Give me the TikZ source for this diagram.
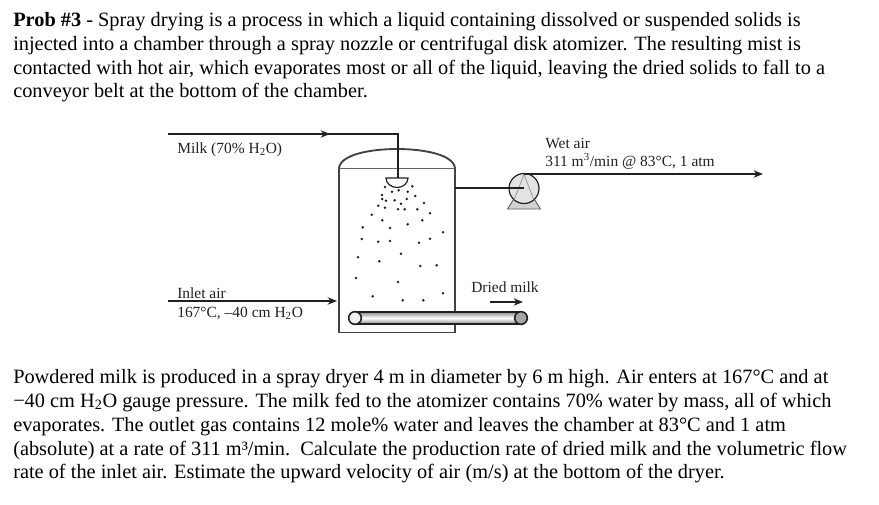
\documentclass[tikz,border=0pt]{standalone}
\usepackage{fontspec}
\setmainfont{Liberation Serif}
\usetikzlibrary{arrows.meta, positioning}
\definecolor{linedark}{gray}{0.13}
\definecolor{pumpgray}{gray}{0.82}
\tikzset{
bodytext/.style={anchor=base west,inner sep=0pt,font=\fontsize{15.25pt}{18pt}\selectfont},
labeltext/.style={anchor=base west,inner sep=0pt,text=linedark,font=\fontsize{11.6pt}{13pt}\selectfont},
pipe/.style={draw=linedark,line width=1.5pt},
wall/.style={draw=linedark!85,line width=1.4pt},
droplet/.style={circle,fill=linedark,inner sep=0pt,minimum size=2.1pt},
}
\begin{document}
\begin{tikzpicture}[
>={Stealth[length=7pt,width=5.5pt]},
x=0.75pt,
y=-0.75pt,
]
\useasboundingbox (0,0) rectangle (879,504);

\node[bodytext] (t1) at (13,26) {\textbf{Prob \#3} - Spray drying is a process in which a liquid containing dissolved or suspended solids is};
\node[bodytext] (t2) at (13,50) {injected into a chamber through a spray nozzle or centrifugal disk atomizer. The resulting mist is};
\node[bodytext] (t3) at (13,74) {contacted with hot air, which evaporates most or all of the liquid, leaving the dried solids to fall to a};
\node[bodytext] (t4) at (13,97.5) {conveyor belt at the bottom of the chamber.};

\node[bodytext] (p1) at (13,383) {Powdered milk is produced in a spray dryer 4 m in diameter by 6 m high. Air enters at 167°C and at};
\node[bodytext] (p2) at (13,407) {−40 cm H\textsubscript{2}O gauge pressure. The milk fed to the atomizer contains 70\% water by mass, all of which};
\node[bodytext] (p3) at (13,431) {evaporates. The outlet gas contains 12 mole\% water and leaves the chamber at 83°C and 1 atm};
\node[bodytext] (p4) at (13,455) {(absolute) at a rate of 311 m³/min.\ \ Calculate the production rate of dried milk and the volumetric flow};
\node[bodytext] (p5) at (13,478.5) {rate of the inlet air. Estimate the upward velocity of air (m/s) at the bottom of the dryer.};

\draw[wall] (339,168) -- (339,332.5) -- (455,332.5) -- (455,168);
\draw[wall] (339,168) .. controls (341,154) and (372,149) .. (397,149) .. controls (422,149) and (453,154) .. (455,168);
\draw[draw=linedark!70,line width=0.6pt] (339,168) -- (455,168);

\node[droplet] (nozzle) at (398,178) {};
\draw[fill=white,draw=linedark,line width=0.9pt] (386,178) -- (408,178) arc[start angle=0,end angle=180,radius=11,y radius=9.5] -- cycle;

\foreach \dropx/\dropy in {385/187,412.3/186.3,392/191.7,398.7/190.3,407.7/191.7,415.3/196,382/195,382.3/199,386/200.7,394.7/200.3,406.7/199,401/203.7,424/203,378.3/205.7,385/207.7,398/209.3,404.7/209.3,417.3/209.3,430/213.3,371.7/214.7,382.3/220.3,422.3/220.3,407.7/224.3,362.7/227.3,390/228,443/232.3,361.7/239,378.3/241.7,390/241,419/242.7,430/238.7,401/253.7,358/257.3,379.3/261.3,420.3/266,436.7/265.3,356/278,398/282,372.7/296.3,402.7/300.3,423.3/300.3,443/293.3}
\node[droplet] at (\dropx,\dropy) {};

\coordinate (milkin) at (168,134);
\coordinate (milkmid) at (330,134);
\coordinate (milkcorner) at (398,134);
\draw[pipe] (milkin) -- (milkcorner) -- (nozzle.center);
\draw[pipe,->] (milkin) -- (milkmid);

\coordinate (airin) at (168,301);
\coordinate (airend) at (337,301);
\draw[pipe,->] (airin) -- (airend);

\node[labeltext] (milk) at (177,153) {Milk (70\% H\textsubscript{2}O)};
\node[labeltext] (inlet) at (177,298) {Inlet air};
\node[labeltext] (inletcond) at (177,317.5) {167°C, –40 cm H\textsubscript{2}O};

\coordinate (pumpbl) at (507.5,209);
\coordinate (pumpbr) at (540.5,209);
\draw[fill=pumpgray,draw=linedark!70,line width=0.7pt] (pumpbl) -- (515,197) -- (533,197) -- (pumpbr) -- cycle;
\node[circle,draw=linedark,fill=pumpgray!60,line width=0.9pt,inner sep=0pt,minimum size=22.5pt] (pump) at (524,188.5) {};
\draw[draw=linedark!50,line width=0.5pt] (514,200) -- (524,174.5) -- (534,200);

\coordinate (wallout) at (455,188);
\coordinate (pumpmid) at (524,188);
\coordinate (wetend) at (763,174);
\coordinate (pumptop) at (524,174);
\draw[pipe] (wallout) -- (pumpmid);
\draw[pipe,->] (pumptop) -- (wetend);

\node[labeltext] (wet) at (545,148) {Wet air};
\node[labeltext] (wetcond) at (545,166.5) {311 m\textsuperscript{3}/min @ 83°C, 1 atm};

\node[labeltext] (dried) at (471,292) {Dried milk};
\coordinate (driedstart) at (490,302);
\coordinate (driedend) at (523,302);
\draw[draw=linedark,line width=1.1pt,->] (driedstart) -- (driedend);

\shade[top color=gray!90,bottom color=gray!90,middle color=white] (355,312) rectangle (521,324);
\draw[draw=linedark,line width=1.4pt] (355,312) -- (521,312);
\draw[draw=linedark,line width=1.4pt] (355,324) -- (521,324);
\node[circle,draw=linedark,fill=gray!12,line width=1.2pt,inner sep=0pt,minimum size=9.5pt] (rollL) at (355,318) {};
\node[circle,draw=linedark,fill=gray!70,line width=1.2pt,inner sep=0pt,minimum size=9.5pt] (rollR) at (521,318) {};
\end{tikzpicture}
\end{document}
